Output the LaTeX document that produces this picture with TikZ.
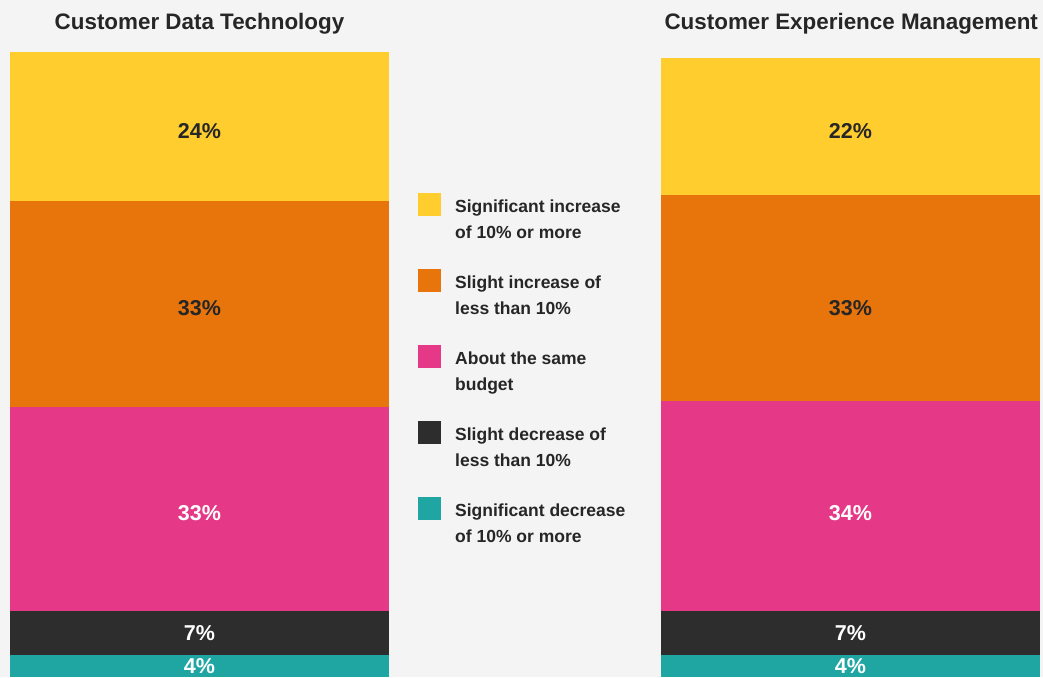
\documentclass[tikz,border=0pt]{standalone}
\usepackage{fontspec}
\setmainfont{Liberation Sans}
\usepackage[x11names]{xcolor}
\usepackage{tikz}
\usetikzlibrary{positioning}

\definecolor{sigInc}{HTML}{FFCD2E}
\definecolor{sliInc}{HTML}{E8740C}
\definecolor{same}{HTML}{E53887}
\definecolor{sliDec}{HTML}{2D2D2D}
\definecolor{sigDec}{HTML}{20A6A2}
\definecolor{bgGray}{HTML}{F4F4F4}
\definecolor{txtDark}{HTML}{262626}

\begin{document}
\begin{tikzpicture}[x=1pt, y=-1pt,
	seg/.style={rectangle, anchor=north west, minimum width=379pt, inner sep=0pt, outer sep=0pt},
	pct/.style={inner sep=0pt, font=\bfseries\fontsize{21.5}{24}\selectfont},
	key/.style={rectangle, minimum width=23pt, minimum height=23pt, inner sep=0pt, outer sep=0pt},
	keytext/.style={right=14pt of #1.north east, anchor=north west, yshift=-6.5pt, align=left, inner sep=0pt, text=txtDark, font=\bfseries\fontsize{17.5}{26}\selectfont},
	title/.style={font=\bfseries\fontsize{22.4}{26}\selectfont, text=txtDark}]
	\useasboundingbox[fill=bgGray] (0,0) rectangle (1043,677);
	%
	% titles
	\node[title, anchor=base] (cdtTitle) at (199.5,30) {Customer Data Technology};
	\node[title, anchor=base west] (cxmTitle) at (661,30) {Customer Experience Management};
	%
	% left bar
	\node[seg, fill=sigInc, minimum height=149pt] (cdtSigInc) at (10,52) {};
	\node[seg, fill=sliInc, minimum height=206pt] (cdtSliInc) at (cdtSigInc.south west) {};
	\node[seg, fill=same, minimum height=204pt] (cdtSame) at (cdtSliInc.south west) {};
	\node[seg, fill=sliDec, minimum height=44pt] (cdtSliDec) at (cdtSame.south west) {};
	\node[seg, fill=sigDec, minimum height=22pt] (cdtSigDec) at (cdtSliDec.south west) {};
	%
	\node[pct, text=txtDark] (cdtSigIncPct) at ([yshift=-4.5pt]cdtSigInc.center) {24\%};
	\node[pct, text=txtDark] (cdtSliIncPct) at ([yshift=-4pt]cdtSliInc.center) {33\%};
	\node[pct, text=white] (cdtSamePct) at ([yshift=-4pt]cdtSame.center) {33\%};
	\node[pct, text=white] (cdtSliDecPct) at (cdtSliDec.center) {7\%};
	\node[pct, text=white] (cdtSigDecPct) at (cdtSigDec.center) {4\%};
	%
	% right bar
	\node[seg, fill=sigInc, minimum height=137pt] (cxmSigInc) at (661,58) {};
	\node[seg, fill=sliInc, minimum height=206pt] (cxmSliInc) at (cxmSigInc.south west) {};
	\node[seg, fill=same, minimum height=210pt] (cxmSame) at (cxmSliInc.south west) {};
	\node[seg, fill=sliDec, minimum height=44pt] (cxmSliDec) at (cxmSame.south west) {};
	\node[seg, fill=sigDec, minimum height=22pt] (cxmSigDec) at (cxmSliDec.south west) {};
	%
	\node[pct, text=txtDark] (cxmSigIncPct) at (cxmSigInc.center |- cdtSigIncPct) {22\%};
	\node[pct, text=txtDark] (cxmSliIncPct) at (cxmSliInc.center |- cdtSliIncPct) {33\%};
	\node[pct, text=white] (cxmSamePct) at (cxmSame.center |- cdtSamePct) {34\%};
	\node[pct, text=white] (cxmSliDecPct) at (cxmSliDec.center) {7\%};
	\node[pct, text=white] (cxmSigDecPct) at (cxmSigDec.center) {4\%};
	%
	% legend
	\node[key, fill=sigInc, anchor=north west] (keySigInc) at (418,193) {};
	\node[key, fill=sliInc, below=53pt of keySigInc] (keySliInc) {};
	\node[key, fill=same, below=53pt of keySliInc] (keySame) {};
	\node[key, fill=sliDec, below=53pt of keySame] (keySliDec) {};
	\node[key, fill=sigDec, below=53pt of keySliDec] (keySigDec) {};
	%
	\node[keytext=keySigInc] (txtSigInc) {Significant increase\\of 10\% or more};
	\node[keytext=keySliInc] (txtSliInc) {Slight increase of\\less than 10\%};
	\node[keytext=keySame] (txtSame) {About the same\\budget};
	\node[keytext=keySliDec] (txtSliDec) {Slight decrease of\\less than 10\%};
	\node[keytext=keySigDec] (txtSigDec) {Significant decrease\\of 10\% or more};
\end{tikzpicture}
\end{document}
